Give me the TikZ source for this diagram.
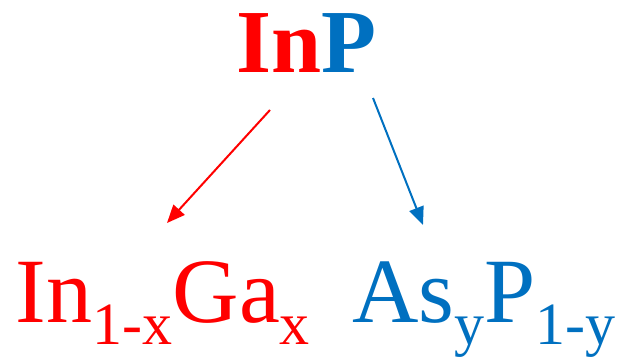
\documentclass[tikz,border=0pt]{standalone}
\usepackage{fontspec}
\setmainfont{Liberation Serif}
\usetikzlibrary{arrows.meta}
\definecolor{myred}{HTML}{FF0000}
\definecolor{myblue}{HTML}{0070C0}
\newcommand{\subtxt}[1]{\raisebox{-22pt}{\fontsize{60}{60}\selectfont #1}}
\tikzset{
  label/.style={inner sep=0pt, outer sep=0pt, anchor=base west, font=\fontsize{92}{92}\selectfont},
  arr/.style={line width=2pt, -{Triangle[length=18pt,width=15pt]}}
}
\begin{document}
\begin{tikzpicture}[x=1pt,y=1pt]
\useasboundingbox (0,0) rectangle (626,360);
\node[label, font=\fontsize{90}{90}\selectfont\bfseries] (inp) at (236,288) {\textcolor{myred}{In}\textcolor{myblue}{P}};
\node[label, text=myred] (ingaa) at (16,37.5) {In\subtxt{1-x}Ga\subtxt{x}};
\node[label, text=myblue] (asp) at (352,37.5) {As\subtxt{y}P\subtxt{1-y}};
\coordinate (r1) at (270,250);
\coordinate (r2) at (167,137);
\coordinate (b1) at (373,262);
\coordinate (b2) at (423,135);
\draw[arr, myred] (r1) -- (r2);
\draw[arr, myblue] (b1) -- (b2);
\end{tikzpicture}
\end{document}
